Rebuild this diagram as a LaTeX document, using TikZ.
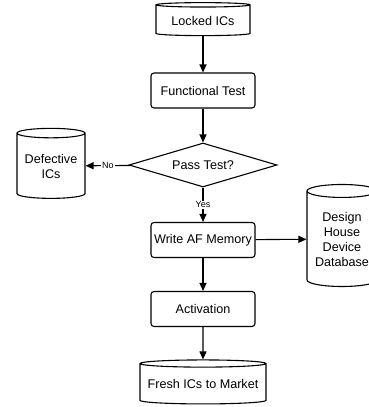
\documentclass[tikz,border=0pt]{standalone}
\usepackage{fontspec}
\setmainfont{Liberation Sans}
\usetikzlibrary{shapes.geometric,arrows.meta}
\begin{document}
\begin{tikzpicture}[x=1pt,y=-1pt,font=\fontsize{12.6}{15}\selectfont]
        \tikzstyle{process}=[rectangle,rounded corners=3pt,draw,line width=1.1pt,minimum width=104pt,minimum height=35pt,inner sep=0pt]
        \tikzstyle{store}=[cylinder,shape border rotate=90,draw,line width=1.1pt,inner sep=0pt,align=center]
        \tikzstyle{decision}=[diamond,draw,line width=1.1pt,aspect=3.4,minimum width=148pt,minimum height=44pt,inner sep=0pt]
        \tikzstyle{edge}=[draw,line width=1.1pt,-{Triangle[length=8pt,width=7pt]}]
        \tikzstyle{lbl}=[font=\fontsize{9}{10}\selectfont,fill=white,inner sep=1pt]
        \useasboundingbox (0,0) rectangle (368,407);
       \begin{scope}
         \node [store,minimum width=94pt,minimum height=33pt,aspect=0.07] (lock) at (203,20.5) {Locked ICs};
         \node [process] (func) at (203,90.5) {Functional Test};
         \node [decision] (pass) at (203,165) {Pass Test?};
         \node [store,minimum width=68pt,minimum height=70pt,aspect=0.18] (defect) at (51,166) {Defective\\ICs};
         \node [process] (write) at (203,240) {Write AF Memory};
         \node [store,minimum width=70pt,minimum height=102pt,aspect=0.24] (dbase) at (342,239) {Design\\House\\Device\\Database};
         \node [process] (activ) at (203,309) {Activation};
         \node [store,minimum width=126pt,minimum height=44pt,aspect=0.065] (fresh) at (203,384) {Fresh ICs to Market};
         \path[edge] (lock) edge (func);
         \path[edge] (func) edge (pass);
         \path[edge] (pass) edge node[lbl] {No} (defect);
         \path[edge] (pass) edge node[lbl] {Yes} (write);
         \path[edge] (write) edge (dbase);
         \path[edge] (write) edge (activ);
         \path[edge] (activ) edge (fresh);
        \end{scope}
      \end{tikzpicture}
\end{document}
